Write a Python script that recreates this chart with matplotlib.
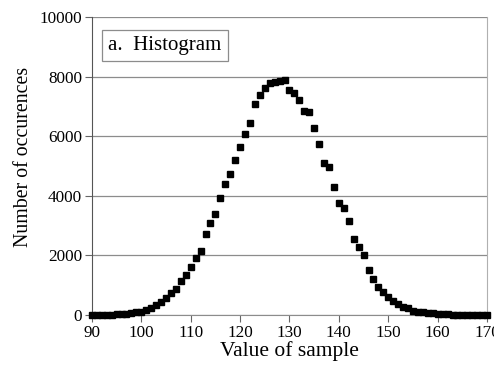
import numpy as np
import matplotlib.pyplot as plt

plt.rcParams['font.family'] = ['Liberation Serif', 'DejaVu Serif']

# sample values and how many times each one occurred
sample_value = np.arange(90, 171)
occurrences = [
    5, 7, 10, 14, 20, 28, 38, 50, 68, 90,            # 90-99
    110, 160, 230, 335, 446, 580, 728, 860, 1141, 1342,  # 100-109
    1600, 1930, 2150, 2710, 3100, 3380, 3920, 4410, 4730, 5200,  # 110-119
    5630, 6070, 6430, 7080, 7380, 7610, 7780, 7830, 7840, 7900,  # 120-129
    7550, 7460, 7220, 6860, 6800, 6260, 5730, 5090, 4980, 4310,  # 130-139
    3770, 3580, 3170, 2550, 2290, 2010, 1510, 1200, 950, 780,    # 140-149
    610, 480, 360, 280, 225, 150, 120, 95, 75, 55,               # 150-159
    40, 30, 22, 16, 12, 8, 6, 4, 3, 2,                           # 160-169
    1,                                                           # 170
]

x_ticks = [90, 100, 110, 120, 130, 140, 150, 160, 170]
y_ticks = [0, 2000, 4000, 6000, 8000, 10000]

fig = plt.figure(figsize=(4.94, 3.69), dpi=100)
ax = fig.add_axes([0.186, 0.146, 0.80, 0.808])

ax.plot(sample_value, occurrences, linestyle='none', marker='s',
        markersize=4.3, color='black', clip_on=False, zorder=3)

ax.set_xlim(90, 170)
ax.set_ylim(0, 10000)
ax.set_xticks(x_ticks)
ax.set_yticks(y_ticks)
ax.grid(axis='y', color='#8c8c8c', linewidth=0.9)
ax.set_axisbelow(True)

ax.spines['top'].set_visible(False)
ax.spines['left'].set_color('#555555')
ax.spines['bottom'].set_color('#8c8c8c')
ax.spines['right'].set_color('#b0b0b0')
ax.tick_params(axis='both', direction='out', length=5, color='#666666',
               labelsize=12.3, pad=2)

ax.set_xlabel("Value of sample", fontsize=15.5, labelpad=0)
ax.set_ylabel("Number of occurences", fontsize=14.3)
ax.yaxis.set_label_coords(-0.148, 0.53)

ax.text(0.042, 0.905, "a.  Histogram", transform=ax.transAxes, fontsize=15,
        va='center', ha='left',
        bbox=dict(boxstyle='square,pad=0.3', facecolor='white',
                  edgecolor='#8c8c8c', linewidth=0.9))

fig.savefig("out.png", dpi=100)
